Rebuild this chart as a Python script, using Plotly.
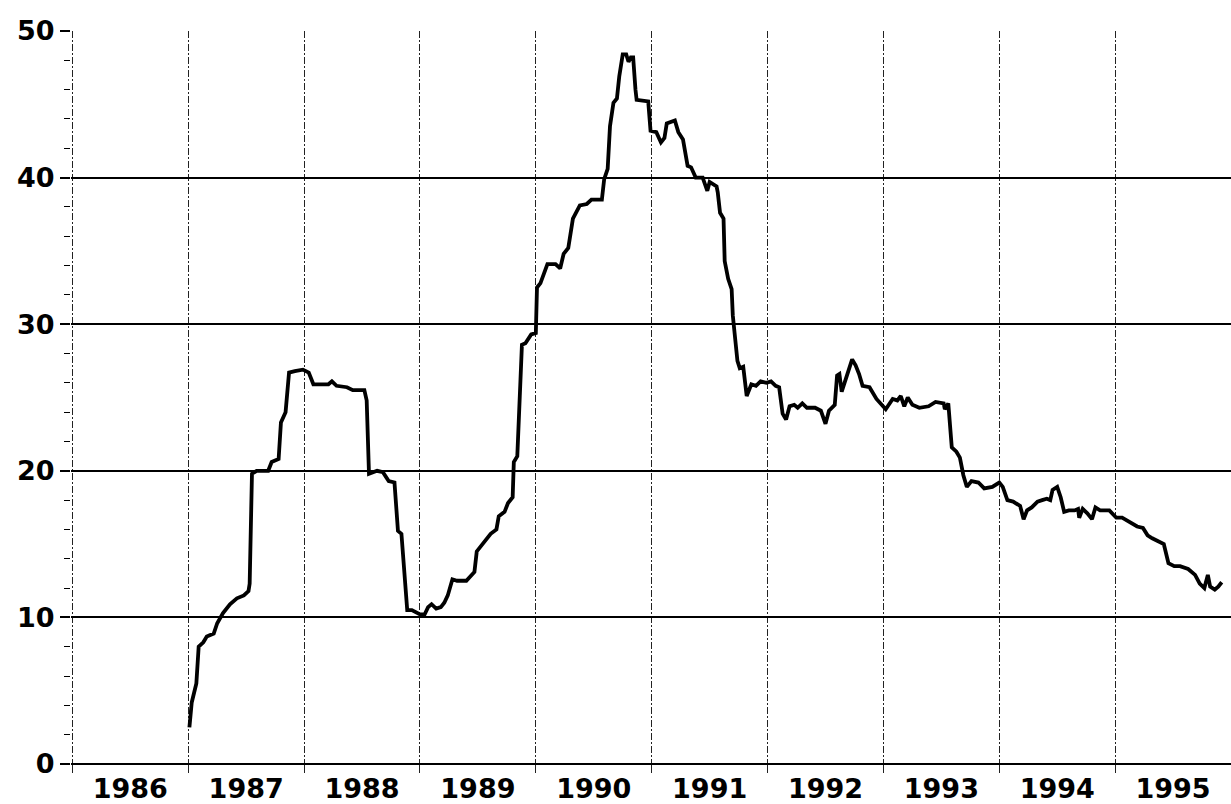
import plotly.graph_objects as go

# Weekly series, time in decimal years
t_years = [
    1987.01, 1987.03, 1987.07, 1987.09, 1987.13, 1987.16, 1987.22, 1987.25, 1987.30, 1987.36,
    1987.42, 1987.48, 1987.52, 1987.53, 1987.55, 1987.59, 1987.69, 1987.72, 1987.78, 1987.80,
    1987.84, 1987.87, 1987.92, 1987.99, 1988.04, 1988.08, 1988.21, 1988.24, 1988.28, 1988.37,
    1988.42, 1988.52, 1988.54, 1988.56, 1988.63, 1988.68, 1988.73, 1988.78, 1988.81, 1988.84,
    1988.89, 1988.93, 1989.00, 1989.04, 1989.07, 1989.10, 1989.14, 1989.18, 1989.21, 1989.24,
    1989.28, 1989.32, 1989.40, 1989.43, 1989.47, 1989.49, 1989.55, 1989.61, 1989.66, 1989.68,
    1989.73, 1989.76, 1989.80, 1989.81, 1989.84, 1989.86, 1989.88, 1989.91, 1989.96, 1990.00,
    1990.01, 1990.04, 1990.10, 1990.17, 1990.21, 1990.24, 1990.28, 1990.32, 1990.38, 1990.44,
    1990.48, 1990.57, 1990.59, 1990.62, 1990.64, 1990.67, 1990.70, 1990.72, 1990.75, 1990.78,
    1990.80, 1990.82, 1990.84, 1990.86, 1990.87, 1990.97, 1990.99, 1991.04, 1991.08, 1991.11,
    1991.13, 1991.20, 1991.23, 1991.27, 1991.30, 1991.31, 1991.34, 1991.38, 1991.44, 1991.48,
    1991.50, 1991.56, 1991.57, 1991.59, 1991.62, 1991.63, 1991.66, 1991.69, 1991.70, 1991.72,
    1991.74, 1991.76, 1991.79, 1991.82, 1991.86, 1991.90, 1991.94, 1991.99, 1992.03, 1992.07,
    1992.10, 1992.13, 1992.16, 1992.19, 1992.23, 1992.26, 1992.30, 1992.34, 1992.41, 1992.46,
    1992.50, 1992.53, 1992.58, 1992.60, 1992.62, 1992.64, 1992.68, 1992.71, 1992.73, 1992.76,
    1992.79, 1992.82, 1992.88, 1992.94, 1992.99, 1993.02, 1993.08, 1993.12, 1993.15, 1993.18,
    1993.21, 1993.25, 1993.31, 1993.36, 1993.39, 1993.45, 1993.52, 1993.53, 1993.56, 1993.59,
    1993.63, 1993.66, 1993.69, 1993.72, 1993.76, 1993.82, 1993.87, 1993.94, 1994.00, 1994.03,
    1994.07, 1994.12, 1994.18, 1994.21, 1994.24, 1994.28, 1994.33, 1994.37, 1994.41, 1994.44,
    1994.46, 1994.50, 1994.53, 1994.56, 1994.60, 1994.65, 1994.68, 1994.69, 1994.72, 1994.76,
    1994.80, 1994.83, 1994.87, 1994.95, 1995.01, 1995.06, 1995.10, 1995.15, 1995.19, 1995.24,
    1995.28, 1995.32, 1995.37, 1995.42, 1995.46, 1995.51, 1995.56, 1995.63, 1995.69, 1995.73,
    1995.77, 1995.80, 1995.82, 1995.86, 1995.89, 1995.92,
]

rate = [
    2.5, 4.2, 5.5, 8.0, 8.3, 8.7, 8.9, 9.6, 10.3, 10.9,
    11.3, 11.5, 11.8, 12.3, 19.8, 20.0, 20.0, 20.6, 20.8, 23.3,
    24.0, 26.7, 26.8, 26.9, 26.7, 25.9, 25.9, 26.1, 25.8, 25.7,
    25.5, 25.5, 24.8, 19.8, 20.0, 19.9, 19.3, 19.2, 15.9, 15.7,
    10.5, 10.5, 10.2, 10.2, 10.7, 10.9, 10.6, 10.7, 11.0, 11.5,
    12.6, 12.5, 12.5, 12.8, 13.1, 14.5, 15.1, 15.7, 16.0, 16.9,
    17.2, 17.8, 18.2, 20.6, 21.0, 25.2, 28.6, 28.7, 29.3, 29.4,
    32.5, 32.8, 34.1, 34.1, 33.8, 34.8, 35.2, 37.2, 38.1, 38.2,
    38.5, 38.5, 39.9, 40.6, 43.5, 45.1, 45.4, 46.9, 48.4, 48.4,
    47.9, 48.2, 48.2, 46.0, 45.3, 45.2, 43.2, 43.1, 42.4, 42.7,
    43.7, 43.9, 43.1, 42.6, 41.2, 40.8, 40.7, 40.0, 40.0, 39.1,
    39.7, 39.4, 39.0, 37.6, 37.2, 34.3, 33.1, 32.4, 30.6, 29.3,
    27.5, 27.0, 27.1, 25.1, 25.9, 25.8, 26.1, 26.0, 26.1, 25.8,
    25.7, 23.9, 23.5, 24.4, 24.5, 24.3, 24.6, 24.3, 24.3, 24.1,
    23.2, 24.1, 24.5, 26.5, 26.6, 25.4, 26.3, 27.1, 27.6, 27.2,
    26.6, 25.8, 25.7, 24.9, 24.5, 24.2, 24.9, 24.8, 25.1, 24.4,
    25.0, 24.5, 24.3, 24.4, 24.4, 24.7, 24.6, 24.2, 24.6, 21.6,
    21.3, 20.9, 19.7, 18.9, 19.3, 19.2, 18.8, 18.9, 19.2, 18.9,
    18.0, 17.9, 17.6, 16.7, 17.3, 17.5, 17.9, 18.0, 18.1, 18.0,
    18.7, 18.9, 18.2, 17.2, 17.3, 17.3, 17.4, 16.8, 17.4, 17.1,
    16.7, 17.5, 17.3, 17.3, 16.8, 16.8, 16.6, 16.4, 16.2, 16.1,
    15.6, 15.4, 15.2, 15.0, 13.7, 13.5, 13.5, 13.3, 12.9, 12.3,
    12.0, 12.9, 12.1, 11.9, 12.1, 12.4,
]

# Year labels sit in the middle of each year; dashed grid marks year starts
year_labels = ["1986", "1987", "1988", "1989", "1990", "1991", "1992", "1993", "1994", "1995"]
year_label_pos = [int(y) + 0.5 for y in year_labels]

y_ticks = [0, 10, 20, 30, 40, 50]

label_font = dict(family="DejaVu Sans", size=27, color="black", weight="bold")

fig = go.Figure()
fig.add_trace(go.Scatter(
    x=t_years, y=rate, mode="lines",
    line=dict(color="black", width=3.8),
    showlegend=False, hoverinfo="skip",
))

fig.update_layout(
    width=1231, height=804,
    margin=dict(l=71, r=0, t=31, b=36),
    paper_bgcolor="white", plot_bgcolor="white",
    xaxis=dict(
        # start slightly before 1986 so the first year-start grid line is drawn
        range=[1985.988, 1996],
        tickmode="array", tickvals=year_label_pos, ticktext=year_labels,
        ticks="", showgrid=False, zeroline=False, showline=False,
        tickfont=label_font, ticklabelstandoff=6,
        minor=dict(
            tickmode="linear", tick0=1986, dtick=1,
            showgrid=True, gridcolor="#222222", gridwidth=1.2,
            griddash="7px,2px,2px,2px",
            ticks="outside", ticklen=8, tickcolor="#222222", tickwidth=1.2,
        ),
    ),
    yaxis=dict(
        range=[0, 50],
        tickmode="array", tickvals=y_ticks,
        showgrid=True, gridcolor="black", gridwidth=1.6,
        zeroline=True, zerolinecolor="black", zerolinewidth=1.6,
        showline=False,
        ticks="outside", ticklen=10, tickwidth=1.6, tickcolor="black",
        tickfont=label_font, ticklabelstandoff=0,
        minor=dict(
            tickmode="linear", tick0=0, dtick=2,
            ticks="outside", ticklen=6, tickwidth=1.2, tickcolor="black",
            showgrid=False,
        ),
    ),
)

fig.write_html("out.html")
